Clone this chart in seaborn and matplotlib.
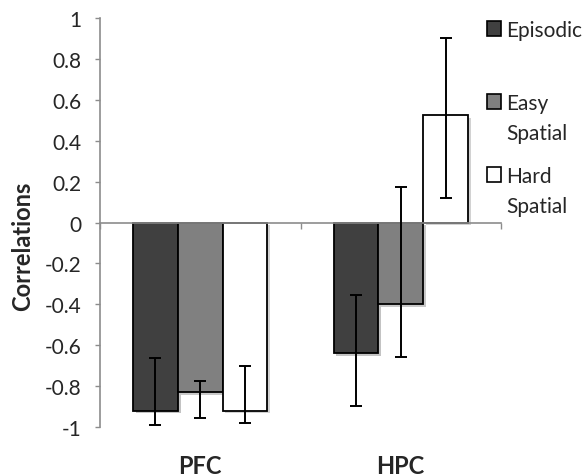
import numpy as np
import pandas as pd
import seaborn as sns
import matplotlib.pyplot as plt
from matplotlib.patches import Patch
import matplotlib.patheffects as pe

regions = ["PFC", "HPC"]
conditions = ["Episodic", "Easy Spatial", "Hard Spatial"]
episodic = [-0.92, -0.64]
easy_spatial = [-0.83, -0.40]
hard_spatial = [-0.92, 0.525]
# error bar ends (lower, upper)
episodic_lo = [-0.99, -0.895]
episodic_hi = [-0.665, -0.355]
easy_lo = [-0.955, -0.66]
easy_hi = [-0.775, 0.175]
hard_lo = [-0.98, 0.12]
hard_hi = [-0.70, 0.90]

colors = ["#404040", "#808080", "#ffffff"]
axis_gray = "#8c8c8c"

df = pd.DataFrame({
    "Region": regions * 3,
    "Condition": np.repeat(conditions, 2),
    "Correlation": episodic + easy_spatial + hard_spatial,
})
lows = [episodic_lo, easy_lo, hard_lo]
highs = [episodic_hi, easy_hi, hard_hi]

sns.set_style("white")
plt.rcParams["font.family"] = ["Lato", "DejaVu Sans"]

fig = plt.figure(figsize=(5.88, 4.77), dpi=100)
ax = fig.add_axes([100 / 588, 1 - 428 / 477, 401 / 588, 409 / 477])

sns.barplot(data=df, x="Region", y="Correlation", hue="Condition",
            order=regions, hue_order=conditions, palette=colors,
            width=0.67, errorbar=None, edgecolor="black", linewidth=1.3,
            legend=False, ax=ax)

for cont, lo, hi in zip(ax.containers, lows, highs):
    for bar, l, h in zip(cont.patches, lo, hi):
        bar.set_path_effects([pe.SimplePatchShadow(offset=(2, -2), alpha=0.25), pe.Normal()])
        xc = bar.get_x() + bar.get_width() / 2
        y = bar.get_height()
        ax.errorbar(xc, y, yerr=[[y - l], [h - y]], fmt="none", ecolor="black",
                    elinewidth=1.4, capsize=4.5, capthick=1.4, zorder=5)

ax.set_ylim(-1, 1)
ax.set_xlim(-0.5, 1.5)
ax.set_yticks(np.arange(-1, 1.01, 0.2))
ax.set_yticklabels(["-1", "-0.8", "-0.6", "-0.4", "-0.2", "0", "0.2", "0.4", "0.6", "0.8", "1"])
ax.tick_params(axis="y", left=True, length=3.6, width=1, color=axis_gray, labelsize=15, pad=10)

# x axis line at zero with category boundary ticks
ax.spines["bottom"].set_position(("data", 0))
ax.spines["bottom"].set_color(axis_gray)
ax.spines["bottom"].set_linewidth(1.2)
ax.set_xticks([-0.5, 0.5, 1.5])
ax.set_xticklabels(["", "", ""])
ax.tick_params(axis="x", which="major", bottom=True, direction="out", length=4.5,
               width=1, color=axis_gray, labelbottom=False)
for i, name in enumerate(regions):
    ax.text(i, -0.093, name, transform=ax.get_xaxis_transform(), ha="center",
            va="center", fontsize=17, fontweight="bold")

ax.set_xlabel("")
ax.set_ylabel("Correlations", fontsize=17, fontweight="bold")
ax.yaxis.set_label_coords(-0.165, 0.445)
for s in ["top", "right"]:
    ax.spines[s].set_visible(False)
ax.spines["left"].set_color(axis_gray)
ax.spines["left"].set_linewidth(1.2)

handles = [Patch(facecolor=c, edgecolor="black", linewidth=1.2) for c in colors]
leg = fig.legend(handles, ["Episodic", "Easy", "Hard"], loc="upper left",
                 bbox_to_anchor=(468 / 588, 1 - 2 / 477), frameon=False,
                 fontsize=15, handlelength=0.7, handleheight=0.7,
                 handletextpad=0.25, labelspacing=2.55)
fig.canvas.draw()
for txt in leg.get_texts()[1:]:
    bb = txt.get_window_extent().transformed(fig.transFigure.inverted())
    fig.text(bb.x0, (bb.y0 + bb.y1) / 2 - 30 / 477, "Spatial", fontsize=15,
             va="center", ha="left")

fig.savefig("out.png", dpi=100)
